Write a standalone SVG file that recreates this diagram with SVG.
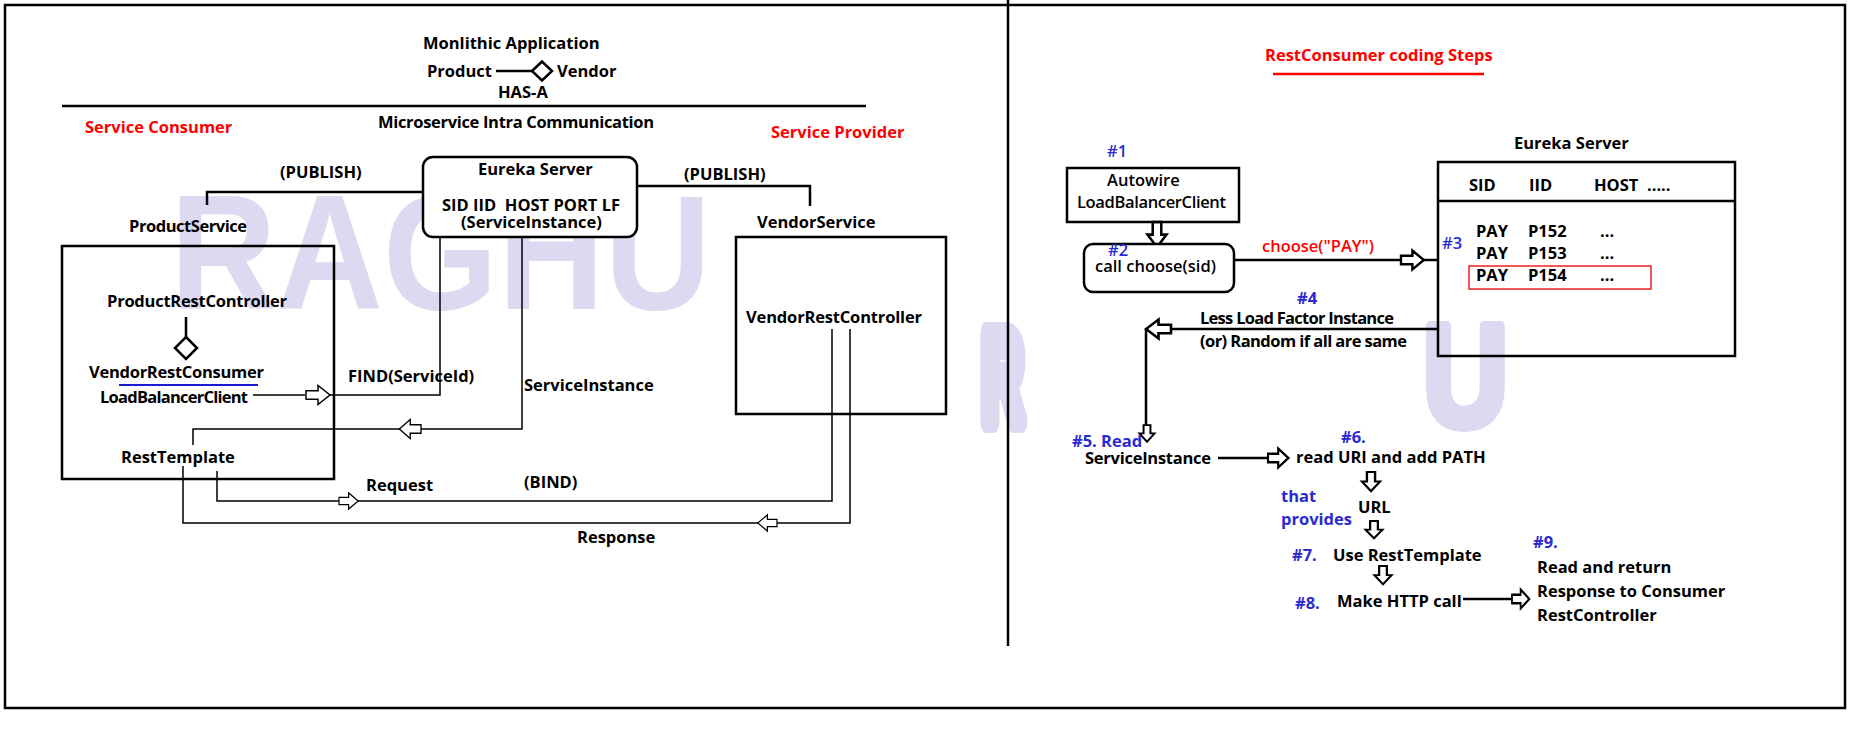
<svg xmlns="http://www.w3.org/2000/svg" xmlns:xlink="http://www.w3.org/1999/xlink" width="1865" height="736" viewBox="0 0 1865 736">
<style>
.t{font-family:"Open Sans","Noto Sans","Liberation Sans",sans-serif;font-weight:bold;font-size:16.5px;fill:#000;white-space:pre}
.m{font-weight:600}
.red{fill:#f00}
.blue{fill:#2a2ad2}
.wm{font-family:"Liberation Sans",Arial,sans-serif;font-weight:bold;fill:#dcd9f0}
.wms{stroke:#dcd9f0;stroke-linejoin:round}
.box{fill:none;stroke:#000;stroke-width:2.5}
.wbox{fill:#fff;stroke:#000;stroke-width:2.5}
.thin{fill:none;stroke:#000;stroke-width:1.5}
.thick{fill:none;stroke:#000;stroke-width:2.5}
.ahT{fill:#fff;stroke:#000;stroke-width:1.5;stroke-linejoin:miter}
.ahK{fill:#fff;stroke:#000;stroke-width:2.5;stroke-linejoin:miter}
</style>
<defs>
<path id="arr" d="M0,-4.3 H12 V-9.5 L24,0 L12,9.5 V4.3 H0 Z"/>
</defs>
<rect width="1865" height="736" fill="#fff"/>

<g id="watermark">
<text class="wm" x="170" y="309" font-size="163" textLength="541" lengthAdjust="spacingAndGlyphs">RAGHU</text>
<text class="wm wms" x="0" y="0" font-size="127" stroke-width="24" transform="translate(982,421) scale(0.45,1)">R</text>
<text class="wm wms" x="0" y="0" font-size="145" stroke-width="10" transform="translate(1423,426) scale(0.81,1)">U</text>
</g>

<g id="frame">
<rect x="5" y="5" width="1840" height="703" class="box"/>
<line x1="1008" y1="0" x2="1008" y2="646" class="thick"/>
<line x1="62" y1="106" x2="866" y2="106" class="thick"/>
</g>

<g id="monolithic">
<text class="t" x="423" y="49">Monlithic Application</text>
<text class="t" x="427" y="77">Product</text>
<line x1="496" y1="71" x2="532" y2="71" class="thick"/>
<path d="M532,71 L542,61.5 L552,71 L542,80.5 Z" class="wbox"/>
<text class="t" x="557" y="77">Vendor</text>
<text class="t" x="498" y="98">HAS-A</text>
<text class="t" x="378" y="128" textLength="276">Microservice Intra Communication</text>
<text class="t red" x="85" y="133">Service Consumer</text>
<text class="t red" x="771" y="138">Service Provider</text>
</g>

<g id="connectors">
<polyline points="207,205 207,192 423,192" class="thick"/>
<polyline points="637,186 810,186 810,206" class="thick"/>
<polyline points="253,395 305,395" class="thin"/>
<polyline points="330,395 440,395 440,237" class="thin"/>
<polyline points="522,237 522,429 421,429" class="thin"/>
<polyline points="400,429 193,429 193,445" class="thin"/>
<polyline points="217,471 217,501 339,501" class="thin"/>
<polyline points="358,501 832,501 832,329" class="thin"/>
<polyline points="850,329 850,523 777,523" class="thin"/>
<polyline points="758,523 183,523 183,466" class="thin"/>
<use xlink:href="#arr" href="#arr" class="ahT" transform="translate(306,395)"/>
<use xlink:href="#arr" href="#arr" class="ahT" transform="translate(421,429) scale(-0.9,1)"/>
<use xlink:href="#arr" href="#arr" class="ahT" transform="translate(339,501) scale(0.8,0.85)"/>
<use xlink:href="#arr" href="#arr" class="ahT" transform="translate(777,523) scale(-0.8,0.85)"/>

<line x1="1234" y1="260" x2="1401" y2="260" class="thick"/>
<line x1="1424" y1="260" x2="1438" y2="260" class="thick"/>
<use xlink:href="#arr" href="#arr" class="ahK" transform="translate(1401,260) scale(0.95,1)"/>
<polyline points="1438,329 1171,329" class="thick"/>
<polyline points="1146,329 1146,427" class="thick"/>
<use xlink:href="#arr" href="#arr" class="ahK" transform="translate(1171,329) scale(-1.04,1)"/>
<use xlink:href="#arr" href="#arr" class="ahK" transform="translate(1147,425) rotate(90) scale(0.7,0.8)"/>
<use xlink:href="#arr" href="#arr" class="ahK" transform="translate(1157,222) rotate(90) scale(1.05,1)"/>
<line x1="1218" y1="458" x2="1268" y2="458" class="thick"/>
<use xlink:href="#arr" href="#arr" class="ahK" transform="translate(1268,458) scale(0.85,1)"/>
<use xlink:href="#arr" href="#arr" class="ahK" transform="translate(1371,472) rotate(90) scale(0.8,0.95)"/>
<use xlink:href="#arr" href="#arr" class="ahK" transform="translate(1374,521) rotate(90) scale(0.72,0.9)"/>
<use xlink:href="#arr" href="#arr" class="ahK" transform="translate(1383,566) rotate(90) scale(0.76,0.9)"/>
<line x1="1463" y1="599" x2="1512" y2="599" class="thick"/>
<use xlink:href="#arr" href="#arr" class="ahK" transform="translate(1512,599) scale(0.72,1)"/>
</g>

<g id="eureka-left">
<rect x="423" y="157" width="214" height="80" rx="10" class="wbox"/>
<text class="t" x="478" y="175">Eureka Server</text>
<text class="t" x="442" y="211">SID IID  HOST PORT LF</text>
<text class="t" x="461" y="228">(ServiceInstance)</text>
</g>
<g id="publish-labels">
<text class="t" x="280" y="178">(PUBLISH)</text>
<text class="t" x="684" y="180">(PUBLISH)</text>
</g>

<g id="product-service">
<text class="t" x="129" y="232" textLength="118">ProductService</text>
<rect x="62" y="246" width="272" height="233" class="box"/>
<text class="t" x="107" y="307" textLength="180">ProductRestController</text>
<line x1="186" y1="317" x2="186" y2="337" class="thick"/>
<path d="M186,337 L197,348 L186,359 L175,348 Z" class="wbox"/>
<text class="t" x="89" y="378" textLength="175">VendorRestConsumer</text>
<line x1="119" y1="385" x2="258" y2="385" stroke="#1a1ad0" stroke-width="2"/>
<text class="t" x="100" y="403" textLength="148">LoadBalancerClient</text>
<text class="t" x="121" y="463">RestTemplate</text>
</g>

<g id="vendor-service">
<text class="t" x="757" y="228">VendorService</text>
<rect x="736" y="237" width="210" height="177" class="box"/>
<text class="t" x="746" y="323" textLength="176">VendorRestController</text>
</g>

<g id="left-labels">
<text class="t" x="348" y="382">FIND(ServiceId)</text>
<text class="t" x="524" y="391">ServiceInstance</text>
<text class="t" x="366" y="491">Request</text>
<text class="t" x="524" y="488">(BIND)</text>
<text class="t" x="577" y="543">Response</text>
</g>

<g id="steps-title">
<text class="t red" x="1265" y="61">RestConsumer coding Steps</text>
<line x1="1273" y1="74" x2="1484" y2="74" stroke="#f00" stroke-width="2.5"/>
</g>

<g id="step1">
<text class="t blue m" x="1107" y="157">#1</text>
<rect x="1067" y="168" width="172" height="54" class="box"/>
<text class="t m" x="1107" y="186">Autowire</text>
<text class="t m" x="1077" y="208" textLength="149">LoadBalancerClient</text>
</g>

<g id="step2">
<rect x="1084" y="244" width="150" height="48" rx="9" class="wbox"/>
<text class="t blue m" x="1108" y="256">#2</text>
<text class="t m" x="1095" y="272">call choose(sid)</text>
<text class="t red m" x="1262" y="252">choose("PAY")</text>
</g>

<g id="eureka-right">
<text class="t" x="1514" y="149">Eureka Server</text>
<rect x="1438" y="162" width="297" height="194" class="box"/>
<line x1="1438" y1="201" x2="1735" y2="201" class="thick"/>
<text class="t" x="1469" y="191">SID</text>
<text class="t" x="1529" y="191">IID</text>
<text class="t" x="1594" y="191">HOST</text>
<text class="t" x="1647" y="191">.....</text>
<text class="t" x="1476" y="237">PAY</text>
<text class="t" x="1528" y="237">P152</text>
<text class="t" x="1600" y="237">...</text>
<text class="t" x="1476" y="259">PAY</text>
<text class="t" x="1528" y="259">P153</text>
<text class="t" x="1600" y="259">...</text>
<rect x="1469" y="266" width="182" height="23" fill="none" stroke="#e22" stroke-width="1.5"/>
<text class="t" x="1476" y="281">PAY</text>
<text class="t" x="1528" y="281">P154</text>
<text class="t" x="1600" y="281">...</text>
<text class="t blue m" x="1442" y="249">#3</text>
</g>

<g id="step4">
<text class="t blue" x="1297" y="304">#4</text>
<text class="t" x="1200" y="324" textLength="194">Less Load Factor Instance</text>
<text class="t" x="1200" y="347" textLength="207">(or) Random if all are same</text>
</g>

<g id="step5">
<text class="t blue" x="1072" y="447">#5. Read</text>
<text class="t" x="1085" y="464" textLength="126">ServiceInstance</text>
</g>

<g id="step6">
<text class="t blue" x="1341" y="443">#6.</text>
<text class="t" x="1296" y="463">read URI and add PATH</text>
<text class="t blue" x="1281" y="502">that</text>
<text class="t blue" x="1281" y="525">provides</text>
<text class="t" x="1358" y="513">URL</text>
</g>

<g id="step7">
<text class="t blue" x="1292" y="561">#7.</text>
<text class="t" x="1333" y="561">Use RestTemplate</text>
</g>

<g id="step8">
<text class="t blue" x="1295" y="609">#8.</text>
<text class="t" x="1337" y="607">Make HTTP call</text>
</g>

<g id="step9">
<text class="t blue" x="1533" y="548">#9.</text>
<text class="t" x="1537" y="573">Read and return</text>
<text class="t" x="1537" y="597">Response to Consumer</text>
<text class="t" x="1537" y="621">RestController</text>
</g>
</svg>
